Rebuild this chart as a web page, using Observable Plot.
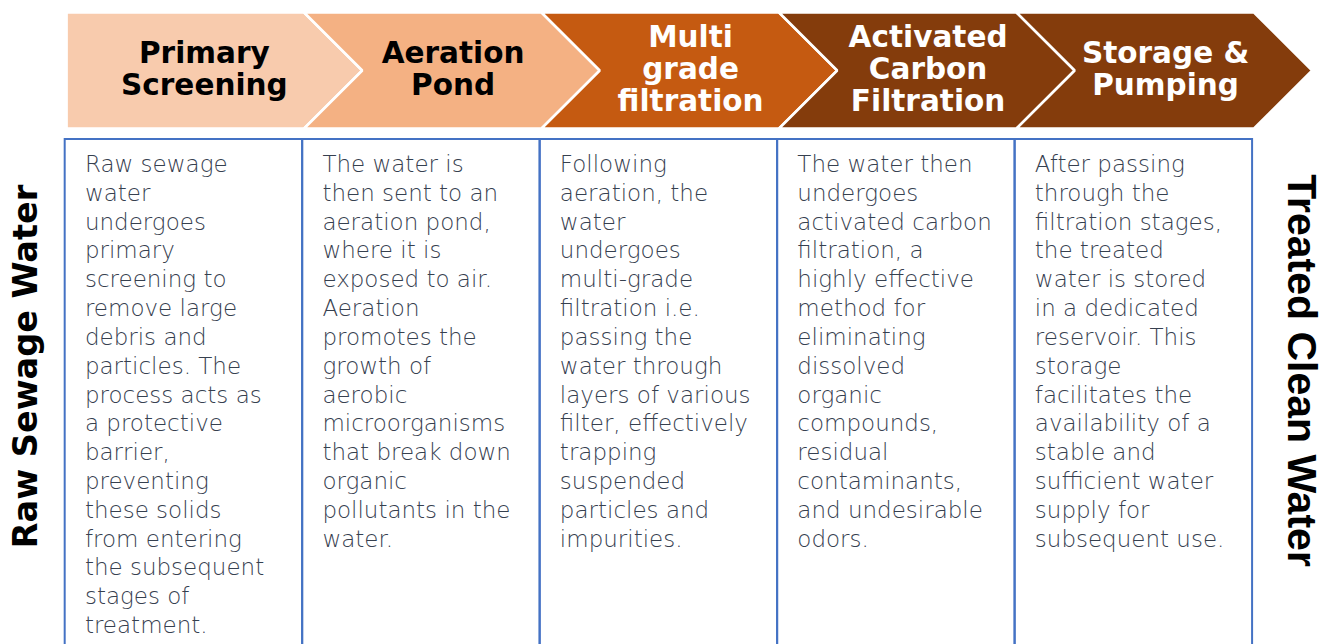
<!DOCTYPE html>
<html>
<head>
<meta charset="utf-8">
<script src="https://cdn.jsdelivr.net/npm/d3@7"></script>
<script src="https://cdn.jsdelivr.net/npm/@observablehq/plot@0.6"></script>
<style>
  html, body { margin: 0; padding: 0; background: #fff; overflow: hidden; }
  #chart svg { display: block; }
</style>
</head>
<body>
<div id="chart"></div>
<script>
// ---- data ----
const stages = ["Primary Screening", "Aeration Pond", "Multi grade filtration", "Activated Carbon Filtration", "Storage & Pumping"];
const stageLabels = ["Primary\nScreening", "Aeration\nPond", "Multi\ngrade\nfiltration", "Activated\nCarbon\nFiltration", "Storage &\nPumping"];
const stageColors = ["#F8CBAD", "#F4B183", "#C55A11", "#843C0C", "#843C0C"];
const labelColors = ["#000000", "#000000", "#ffffff", "#ffffff", "#ffffff"];
const descriptions = [
  "Raw sewage\nwater\nundergoes\nprimary\nscreening to\nremove large\ndebris and\nparticles. The\nprocess acts as\na protective\nbarrier,\npreventing\nthese solids\nfrom entering\nthe subsequent\nstages of\ntreatment.",
  "The water is\nthen sent to an\naeration pond,\nwhere it is\nexposed to air.\nAeration\npromotes the\ngrowth of\naerobic\nmicroorganisms\nthat break down\norganic\npollutants in the\nwater.",
  "Following\naeration, the\nwater\nundergoes\nmulti-grade\nfiltration i.e.\npassing the\nwater through\nlayers of various\nfilter, effectively\ntrapping\nsuspended\nparticles and\nimpurities.",
  "The water then\nundergoes\nactivated carbon\nfiltration, a\nhighly effective\nmethod for\neliminating\ndissolved\norganic\ncompounds,\nresidual\ncontaminants,\nand undesirable\nodors.",
  "After passing\nthrough the\nfiltration stages,\nthe treated\nwater is stored\nin a dedicated\nreservoir. This\nstorage\nfacilitates the\navailability of a\nstable and\nsufficient water\nsupply for\nsubsequent use."
];
const inputLabel = "Raw Sewage Water";
const outputLabel = "Treated Clean Water";

// ---- layout (in scale units) ----
const W = 1331, H = 644;
const xMin = -0.2784, xMax = 5.3263;
const tipDepth = 0.245;           // chevron point depth, in stage widths
const chevTop = 12, chevBot = 128, chevMid = (chevTop + chevBot) / 2;
const boxTop = 139, boxBot = 700;

const chevPts = [];
stages.forEach((s, i) => {
  const pts = i === 0
    ? [[i, chevTop], [i + 1, chevTop], [i + 1 + tipDepth, chevMid], [i + 1, chevBot], [i, chevBot], [i, chevTop]]
    : [[i, chevTop], [i + 1, chevTop], [i + 1 + tipDepth, chevMid], [i + 1, chevBot], [i, chevBot], [i + tipDepth, chevMid], [i, chevTop]];
  pts.forEach(([x, y]) => chevPts.push({stage: s, idx: i, x, y}));
});

const stageData = stages.map((s, i) => ({
  stage: s, idx: i, label: stageLabels[i], color: stageColors[i], labelColor: labelColors[i], desc: descriptions[i]
}));

const plot = Plot.plot({
  width: W,
  height: H,
  margin: 0,
  x: {type: "linear", domain: [xMin, xMax], range: [0, W], axis: null},
  y: {type: "linear", domain: [0, H], range: [0, H], axis: null},
  style: {background: "#ffffff", overflow: "hidden"},
  marks: [
    ...stageData.map(d => Plot.line(chevPts.filter(p => p.idx === d.idx), {
      x: "x", y: "y", fill: d.color, stroke: "#ffffff", strokeWidth: 2.5, strokeLinejoin: "miter", curve: "linear"
    })),
    Plot.rect(stageData, {
      x1: d => d.idx - 0.006, x2: d => d.idx + 0.994, y1: boxTop, y2: boxBot,
      fill: "none", stroke: "#4472C4", strokeWidth: 2, clip: true
    }),
    Plot.text(stageData, {
      x: d => d.idx === 0 ? 0.58 : d.idx + 0.5 + tipDepth / 2 + 0.005, y: chevMid - 1.5, text: "label",
      fill: d => d.labelColor, fontSize: 29.5, fontWeight: "bold", fontFamily: "DejaVu Sans",
      lineHeight: 1.08, textAnchor: "middle", lineAnchor: "middle"
    }),
    Plot.text(stageData, {
      x: d => d.idx + 0.077, y: boxTop + 12, text: "desc",
      fill: "#36404F", fontSize: 23, fontWeight: 200, fontFamily: "DejaVu Sans",
      lineHeight: 1.253, textAnchor: "start", lineAnchor: "top"
    }),
    Plot.text([inputLabel], {
      x: xMin + 26 / 237.5, y: 366, text: d => d, rotate: -90,
      fill: "#000", fontSize: 33.5, fontWeight: "bold", fontFamily: "DejaVu Sans", textAnchor: "middle", lineAnchor: "middle"
    }),
    Plot.text([outputLabel], {
      x: xMax - 30 / 237.5, y: 370, text: d => d, rotate: 90,
      fill: "#000", fontSize: 41, fontWeight: "bold", fontFamily: "Liberation Sans", textAnchor: "middle", lineAnchor: "middle"
    })
  ]
});

document.getElementById("chart").appendChild(plot);
</script>
</body>
</html>
